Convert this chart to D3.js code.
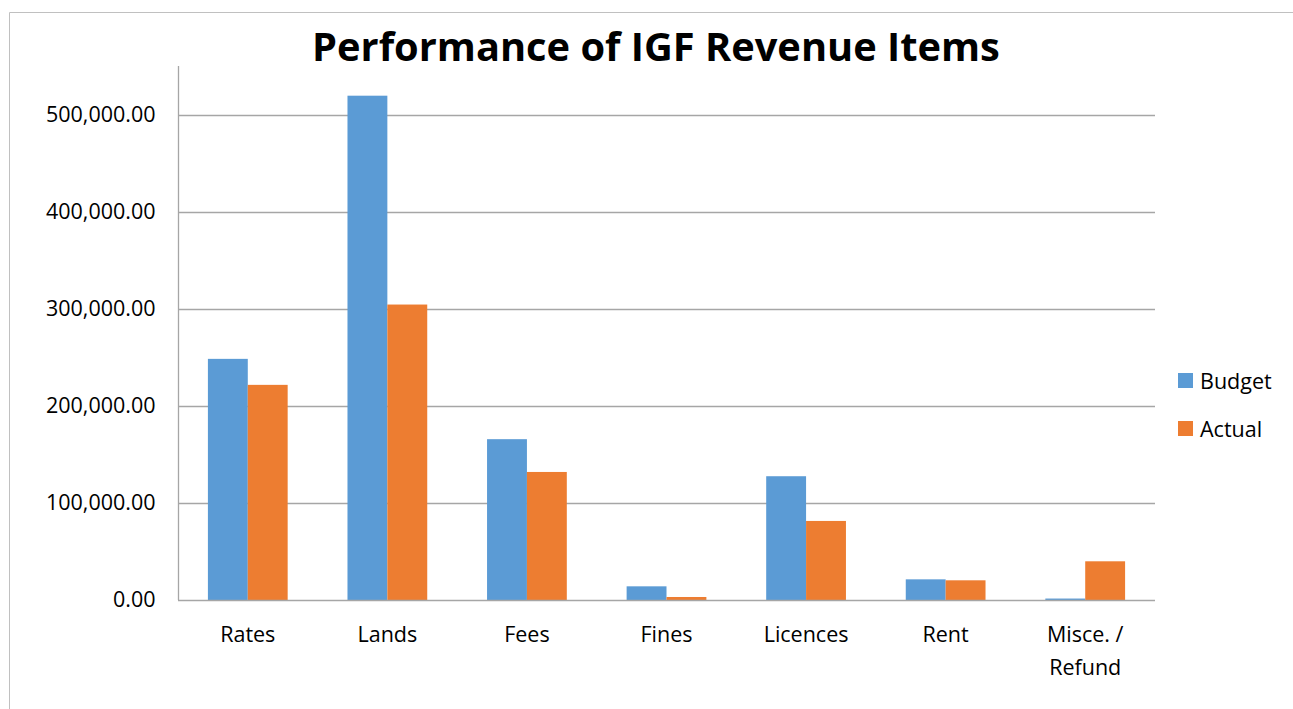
<!DOCTYPE html>
<html>
<head>
<meta charset="utf-8">
<script src="https://cdn.jsdelivr.net/npm/d3@7"></script>
<style>
  body { margin: 0; background: #fff; }
  text { font-family: "Open Sans", "Noto Sans", sans-serif; fill: #000; }
</style>
</head>
<body>
<svg width="1293" height="709"></svg>
<script>
let categories = ["Rates", "Lands", "Fees", "Fines", "Licences", "Rent", "Misce. /\nRefund"];
let budget = [248600, 519900, 165800, 14100, 127600, 21300, 1500];
let actual = [221800, 304600, 132000, 3100, 81500, 20300, 39900];
let seriesNames = ["Budget", "Actual"];
let seriesColors = ["#5B9BD5", "#ED7D31"];
let yTicks = [0, 100000, 200000, 300000, 400000, 500000];

let svg = d3.select("svg"),
  width = +svg.attr("width"),
  height = +svg.attr("height");

let margin = { top: 115, left: 178, right: 1155, bottom: 600 };
let labelSize = "21.5px";

// outer chart border (top and left edges visible)
svg.append("path")
  .attr("d", "M9.5,709 V12.5 H1293")
  .attr("fill", "none")
  .attr("stroke", "#c0c0c0")
  .attr("stroke-width", 1);

let x = d3.scaleBand()
  .domain(categories)
  .range([margin.left, margin.right])
  .paddingInner(0)
  .paddingOuter(0);

// gap width 150% -> each bar is band / 3.5
let x1 = d3.scaleBand()
  .domain(seriesNames)
  .range([0, x.bandwidth()])
  .paddingInner(0)
  .paddingOuter(0.75);

let y = d3.scaleLinear()
  .domain([0, 500000])
  .range([margin.bottom, margin.top]);

let fmt = d3.format(",.2f");

// gridlines
svg.append("g")
  .selectAll("line")
  .data(yTicks.slice(1))
  .enter().append("line")
  .attr("x1", margin.left)
  .attr("x2", margin.right)
  .attr("y1", d => Math.round(y(d)) + 0.5)
  .attr("y2", d => Math.round(y(d)) + 0.5)
  .attr("stroke", "#a6a6a6")
  .attr("stroke-width", 1.3);

// y axis
let yAxis = svg.append("g")
  .attr("transform", "translate(" + (margin.left + 0.5) + ",0)")
  .call(d3.axisLeft(y).tickValues(yTicks).tickFormat(fmt).tickSize(0).tickPadding(23));
yAxis.select(".domain").remove();
yAxis.selectAll("text")
  .style("font-size", labelSize)
  .style("font-family", "\"Open Sans\", sans-serif");

svg.append("line")
  .attr("x1", margin.left + 0.5).attr("x2", margin.left + 0.5)
  .attr("y1", 66).attr("y2", margin.bottom)
  .attr("stroke", "#a6a6a6")
  .attr("stroke-width", 1.3);

// bars
let rows = categories.map((c, i) => ({ cat: c, values: [budget[i], actual[i]] }));

let group = svg.append("g")
  .selectAll("g")
  .data(rows)
  .enter().append("g")
  .attr("transform", d => "translate(" + x(d.cat) + ",0)");

group.selectAll("rect")
  .data(d => d.values.map((v, j) => ({ key: seriesNames[j], value: v, color: seriesColors[j] })))
  .enter().append("rect")
  .attr("x", d => x1(d.key))
  .attr("width", x1.bandwidth())
  .attr("y", d => y(d.value))
  .attr("height", d => y(0) - y(d.value))
  .attr("fill", d => d.color);

// baseline
svg.append("line")
  .attr("x1", margin.left).attr("x2", margin.right)
  .attr("y1", y(0) + 0.5).attr("y2", y(0) + 0.5)
  .attr("stroke", "#a6a6a6")
  .attr("stroke-width", 1.5);

// category labels
let xl = svg.append("g")
  .selectAll("text")
  .data(categories)
  .enter().append("text")
  .attr("text-anchor", "middle")
  .style("font-size", labelSize);
xl.selectAll("tspan")
  .data(d => d.split("\n").map(s => ({ s: s, c: d })))
  .enter().append("tspan")
  .attr("x", d => x(d.c) + x.bandwidth() / 2)
  .attr("y", (d, i) => 642 + i * 33)
  .text(d => d.s);

// title
let title = svg.append("text")
  .attr("x", 656)
  .attr("y", 61)
  .attr("text-anchor", "middle")
  .style("font-size", "38px")
  .style("font-weight", "bold")
  .text("Performance of IGF Revenue Items");
let tw = title.node().getComputedTextLength();
title.style("font-size", (38 * 688 / tw) + "px");

// legend
let legend = svg.append("g")
  .selectAll("g")
  .data(seriesNames)
  .enter().append("g")
  .attr("transform", (d, i) => "translate(1178," + (373 + i * 48) + ")");
legend.append("rect")
  .attr("width", 15)
  .attr("height", 15)
  .attr("fill", (d, i) => seriesColors[i]);
legend.append("text")
  .attr("x", 22)
  .attr("y", 16)
  .style("font-size", labelSize)
  .text(d => d);
</script>
</body>
</html>
